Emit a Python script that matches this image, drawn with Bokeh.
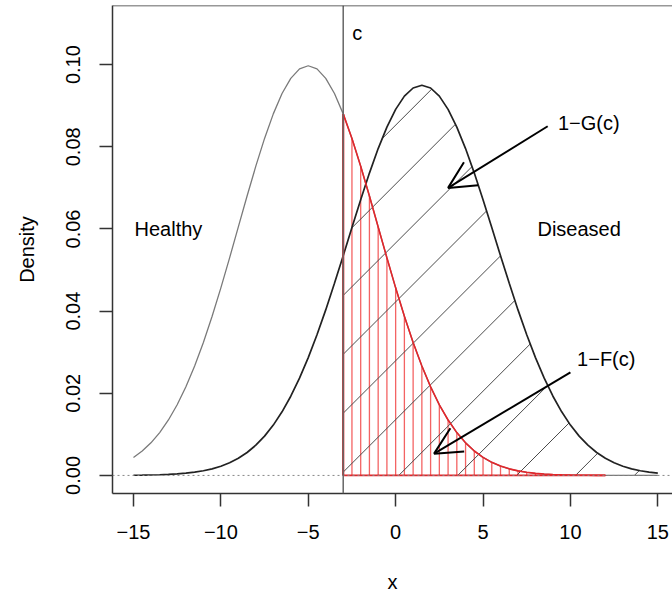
import numpy as np
from bokeh.plotting import figure
from bokeh.models import Range1d, FixedTicker, Span, Arrow, OpenHead, ColumnDataSource
from bokeh.core.properties import value
from bokeh.embed import file_html
from bokeh.resources import INLINE

# ---------------- data ----------------
x_grid = [-15.0, -14.5, -14.0, -13.5, -13.0, -12.5, -12.0, -11.5, -11.0, -10.5,
          -10.0, -9.5, -9.0, -8.5, -8.0, -7.5, -7.0, -6.5, -6.0, -5.5,
          -5.0, -4.5, -4.0, -3.5, -3.0, -2.5, -2.0, -1.5, -1.0, -0.5,
          0.0, 0.5, 1.0, 1.5, 2.0, 2.5, 3.0, 3.5, 4.0, 4.5,
          5.0, 5.5, 6.0, 6.5, 7.0, 7.5, 8.0, 8.5, 9.0, 9.5,
          10.0, 10.5, 11.0, 11.5, 12.0, 12.5, 13.0, 13.5, 14.0, 14.5, 15.0]

healthy_density = [0.004382, 0.005943, 0.007935, 0.010430, 0.013498, 0.017197, 0.021570, 0.026635, 0.032379, 0.038754,
                   0.045662, 0.052970, 0.060493, 0.068015, 0.075284, 0.082041, 0.088016, 0.092965, 0.096667, 0.098960,
                   0.099736, 0.098960, 0.096667, 0.092965, 0.088016, 0.082041, 0.075284, 0.068015, 0.060493, 0.052970,
                   0.045662, 0.038754, 0.032379, 0.026635, 0.021570, 0.017197, 0.013498, 0.010430, 0.007935, 0.005943,
                   0.004382, 0.003181, 0.002273, 0.001599, 0.001108, 0.000755, 0.000507, 0.000335, 0.000218, 0.000140,
                   0.000088, 0.000055, 0.000033, 0.000020, 0.000012, 0.000007, 0.000004, 0.000002, 0.000001, 0.000001, 0.0000005]

diseased_density = [0.000042, 0.000067, 0.000105, 0.000161, 0.000245, 0.000367, 0.000542, 0.000789, 0.001133, 0.001603,
                    0.002237, 0.003077, 0.004173, 0.005581, 0.007357, 0.009562, 0.012253, 0.015480, 0.019283, 0.023685,
                    0.028679, 0.034238, 0.040297, 0.046765, 0.053503, 0.060355, 0.067127, 0.073597, 0.079567, 0.084806,
                    0.089119, 0.092332, 0.094316, 0.094987, 0.094316, 0.092332, 0.089119, 0.084806, 0.079567, 0.073597,
                    0.067127, 0.060355, 0.053503, 0.046765, 0.040297, 0.034238, 0.028679, 0.023685, 0.019283, 0.015480,
                    0.012253, 0.009562, 0.007357, 0.005581, 0.004173, 0.003077, 0.002237, 0.001603, 0.001133, 0.000789, 0.000542]

cutoff_c = -3.0
healthy_tail_end = 12.0

x_ticks = [-15, -10, -5, 0, 5, 10, 15]
x_tick_labels = ["\u221215", "\u221210", "\u22125", "0", "5", "10", "15"]
y_ticks = [0.0, 0.02, 0.04, 0.06, 0.08, 0.10]
y_tick_labels = ["0.00", "0.02", "0.04", "0.06", "0.08", "0.10"]

group_labels = ["Healthy", "Diseased"]
group_label_x = [-13.0, 10.5]
group_label_y = [0.060, 0.060]

cut_label = ["c"]
cut_label_x = [-2.2]
cut_label_y = [0.1077]

arrow_labels = ["1\u2212G(c)", "1\u2212F(c)"]
arrow_label_x = [11.05, 12.05]
arrow_label_y = [0.0858, 0.0283]
arrow_start_x = [8.7, 10.0]
arrow_start_y = [0.0850, 0.0251]
arrow_end_x = [3.0, 2.2]
arrow_end_y = [0.0700, 0.0053]

# ---------------- layout ----------------
W, H = 672, 596
B_LEFT, B_RIGHT, B_TOP, B_BOTTOM = 112, 0, 5, 103
X0, X1 = -16.2, 15.84
Y0, Y1 = -0.0044, 0.1144
FONT = value("Liberation Sans")
FS = "20px"

p = figure(width=W, height=H, output_backend="svg", toolbar_location=None,
           x_range=Range1d(X0, X1), y_range=Range1d(Y0, Y1),
           min_border_left=B_LEFT, min_border_right=B_RIGHT,
           min_border_top=B_TOP, min_border_bottom=B_BOTTOM)
p.outline_line_color = None
p.xgrid.visible = False
p.ygrid.visible = False
p.background_fill_color = "white"
p.border_fill_color = "white"

xg = np.array(x_grid)
hd = np.array(healthy_density)
dd = np.array(diseased_density)

# red vertical hatching under healthy tail (1-F(c))
rx = np.arange(cutoff_c, healthy_tail_end + 1e-9, 0.5)
ry = np.interp(rx, xg, hd)
p.segment(x0=rx, y0=np.zeros_like(rx), x1=rx, y1=ry,
          line_color="#f03c3c", line_width=1.3, line_alpha=0.8)

# black 45-degree hatching under diseased curve right of c (1-G(c))
frame_w = W - B_LEFT - B_RIGHT
frame_h = H - B_TOP - B_BOTTOM
slope = (frame_w / (X1 - X0)) / (frame_h / (Y1 - Y0))
xs_fine = np.linspace(cutoff_c, 15.0, 4001)
dis_fine = np.interp(xs_fine, xg, dd)
hatch_spacing = 3.37
hatch_anchor = -3.19
seg_x, seg_y = [], []
for k in range(-10, 10):
    xi = hatch_anchor + k * hatch_spacing
    yl = slope * (xs_fine - xi)
    inside = (yl >= 0) & (yl <= dis_fine)
    idx = np.where(inside)[0]
    if len(idx) == 0:
        continue
    runs = np.split(idx, np.where(np.diff(idx) > 1)[0] + 1)
    for r in runs:
        if len(r) < 2:
            continue
        seg_x.append([xs_fine[r[0]], xs_fine[r[-1]]])
        seg_y.append([yl[r[0]], yl[r[-1]]])
p.multi_line(xs=seg_x, ys=seg_y, line_color="#4a4a4a", line_width=1)

# baseline dotted
p.add_layout(Span(location=0, dimension="width", line_color="#888888",
                  line_width=1, line_dash="2 3"))

# healthy curve (grey) and diseased curve
p.line(xg, hd, line_color="#7a7a7a", line_width=1.3)
p.line(xg, dd, line_color="#222222", line_width=1.7)

# red tail of healthy curve
mask = (xg >= cutoff_c) & (xg <= healthy_tail_end)
p.line(xg[mask], hd[mask], line_color="#e3262b", line_width=1.6)
p.segment(x0=[cutoff_c], y0=[0], x1=[healthy_tail_end], y1=[0], line_color="#e3262b", line_width=1.8)
p.segment(x0=[cutoff_c], y0=[0], x1=[cutoff_c], y1=[float(np.interp(cutoff_c, xg, hd))],
          line_color="#e3262b", line_width=2.2)

# cutoff vertical line
p.add_layout(Span(location=cutoff_c, dimension="height", line_color="#666666", line_width=1.5))

# top border of the box
p.add_layout(Span(location=Y1, dimension="width", line_color="#333333", line_width=1.5))

# arrows
for i in range(len(arrow_labels)):
    p.add_layout(Arrow(end=OpenHead(size=27, line_width=2, line_color="black"),
                       x_start=arrow_start_x[i], y_start=arrow_start_y[i],
                       x_end=arrow_end_x[i], y_end=arrow_end_y[i],
                       line_color="black", line_width=2))

# texts
src = ColumnDataSource(dict(x=group_label_x + arrow_label_x + cut_label_x,
                            y=group_label_y + arrow_label_y + cut_label_y,
                            t=group_labels + arrow_labels + cut_label))
p.text(x="x", y="y", text="t", source=src, text_font=FONT, text_font_size=FS,
       text_align="center", text_baseline="middle", text_color="black")

# axes
for ax in (p.xaxis[0], p.yaxis[0]):
    ax.axis_line_color = "#333333"
    ax.axis_line_width = 1.5
    ax.major_tick_line_color = "#333333"
    ax.major_tick_line_width = 1.5
    ax.major_tick_out = 13
    ax.major_tick_in = 0
    ax.minor_tick_line_color = None
    ax.major_label_text_font = "Liberation Sans"
    ax.major_label_text_font_size = FS
    ax.major_label_text_color = "black"
    ax.axis_label_text_font = "Liberation Sans"
    ax.axis_label_text_font_size = FS
    ax.axis_label_text_font_style = "normal"
    ax.axis_label_text_color = "black"

p.xaxis.ticker = FixedTicker(ticks=x_ticks)
p.xaxis.major_label_overrides = dict(zip(x_ticks, x_tick_labels))
p.xaxis.axis_label = "x"
p.xaxis.major_label_standoff = 18
p.xaxis.axis_label_standoff = 29

p.yaxis.ticker = FixedTicker(ticks=y_ticks)
p.yaxis.major_label_overrides = dict(zip(y_ticks, y_tick_labels))
p.yaxis.major_label_orientation = "vertical"
p.yaxis.axis_label = "Density"
p.yaxis.major_label_standoff = 19
p.yaxis.axis_label_standoff = 26

open("out.html", "w").write(file_html(p, INLINE))
